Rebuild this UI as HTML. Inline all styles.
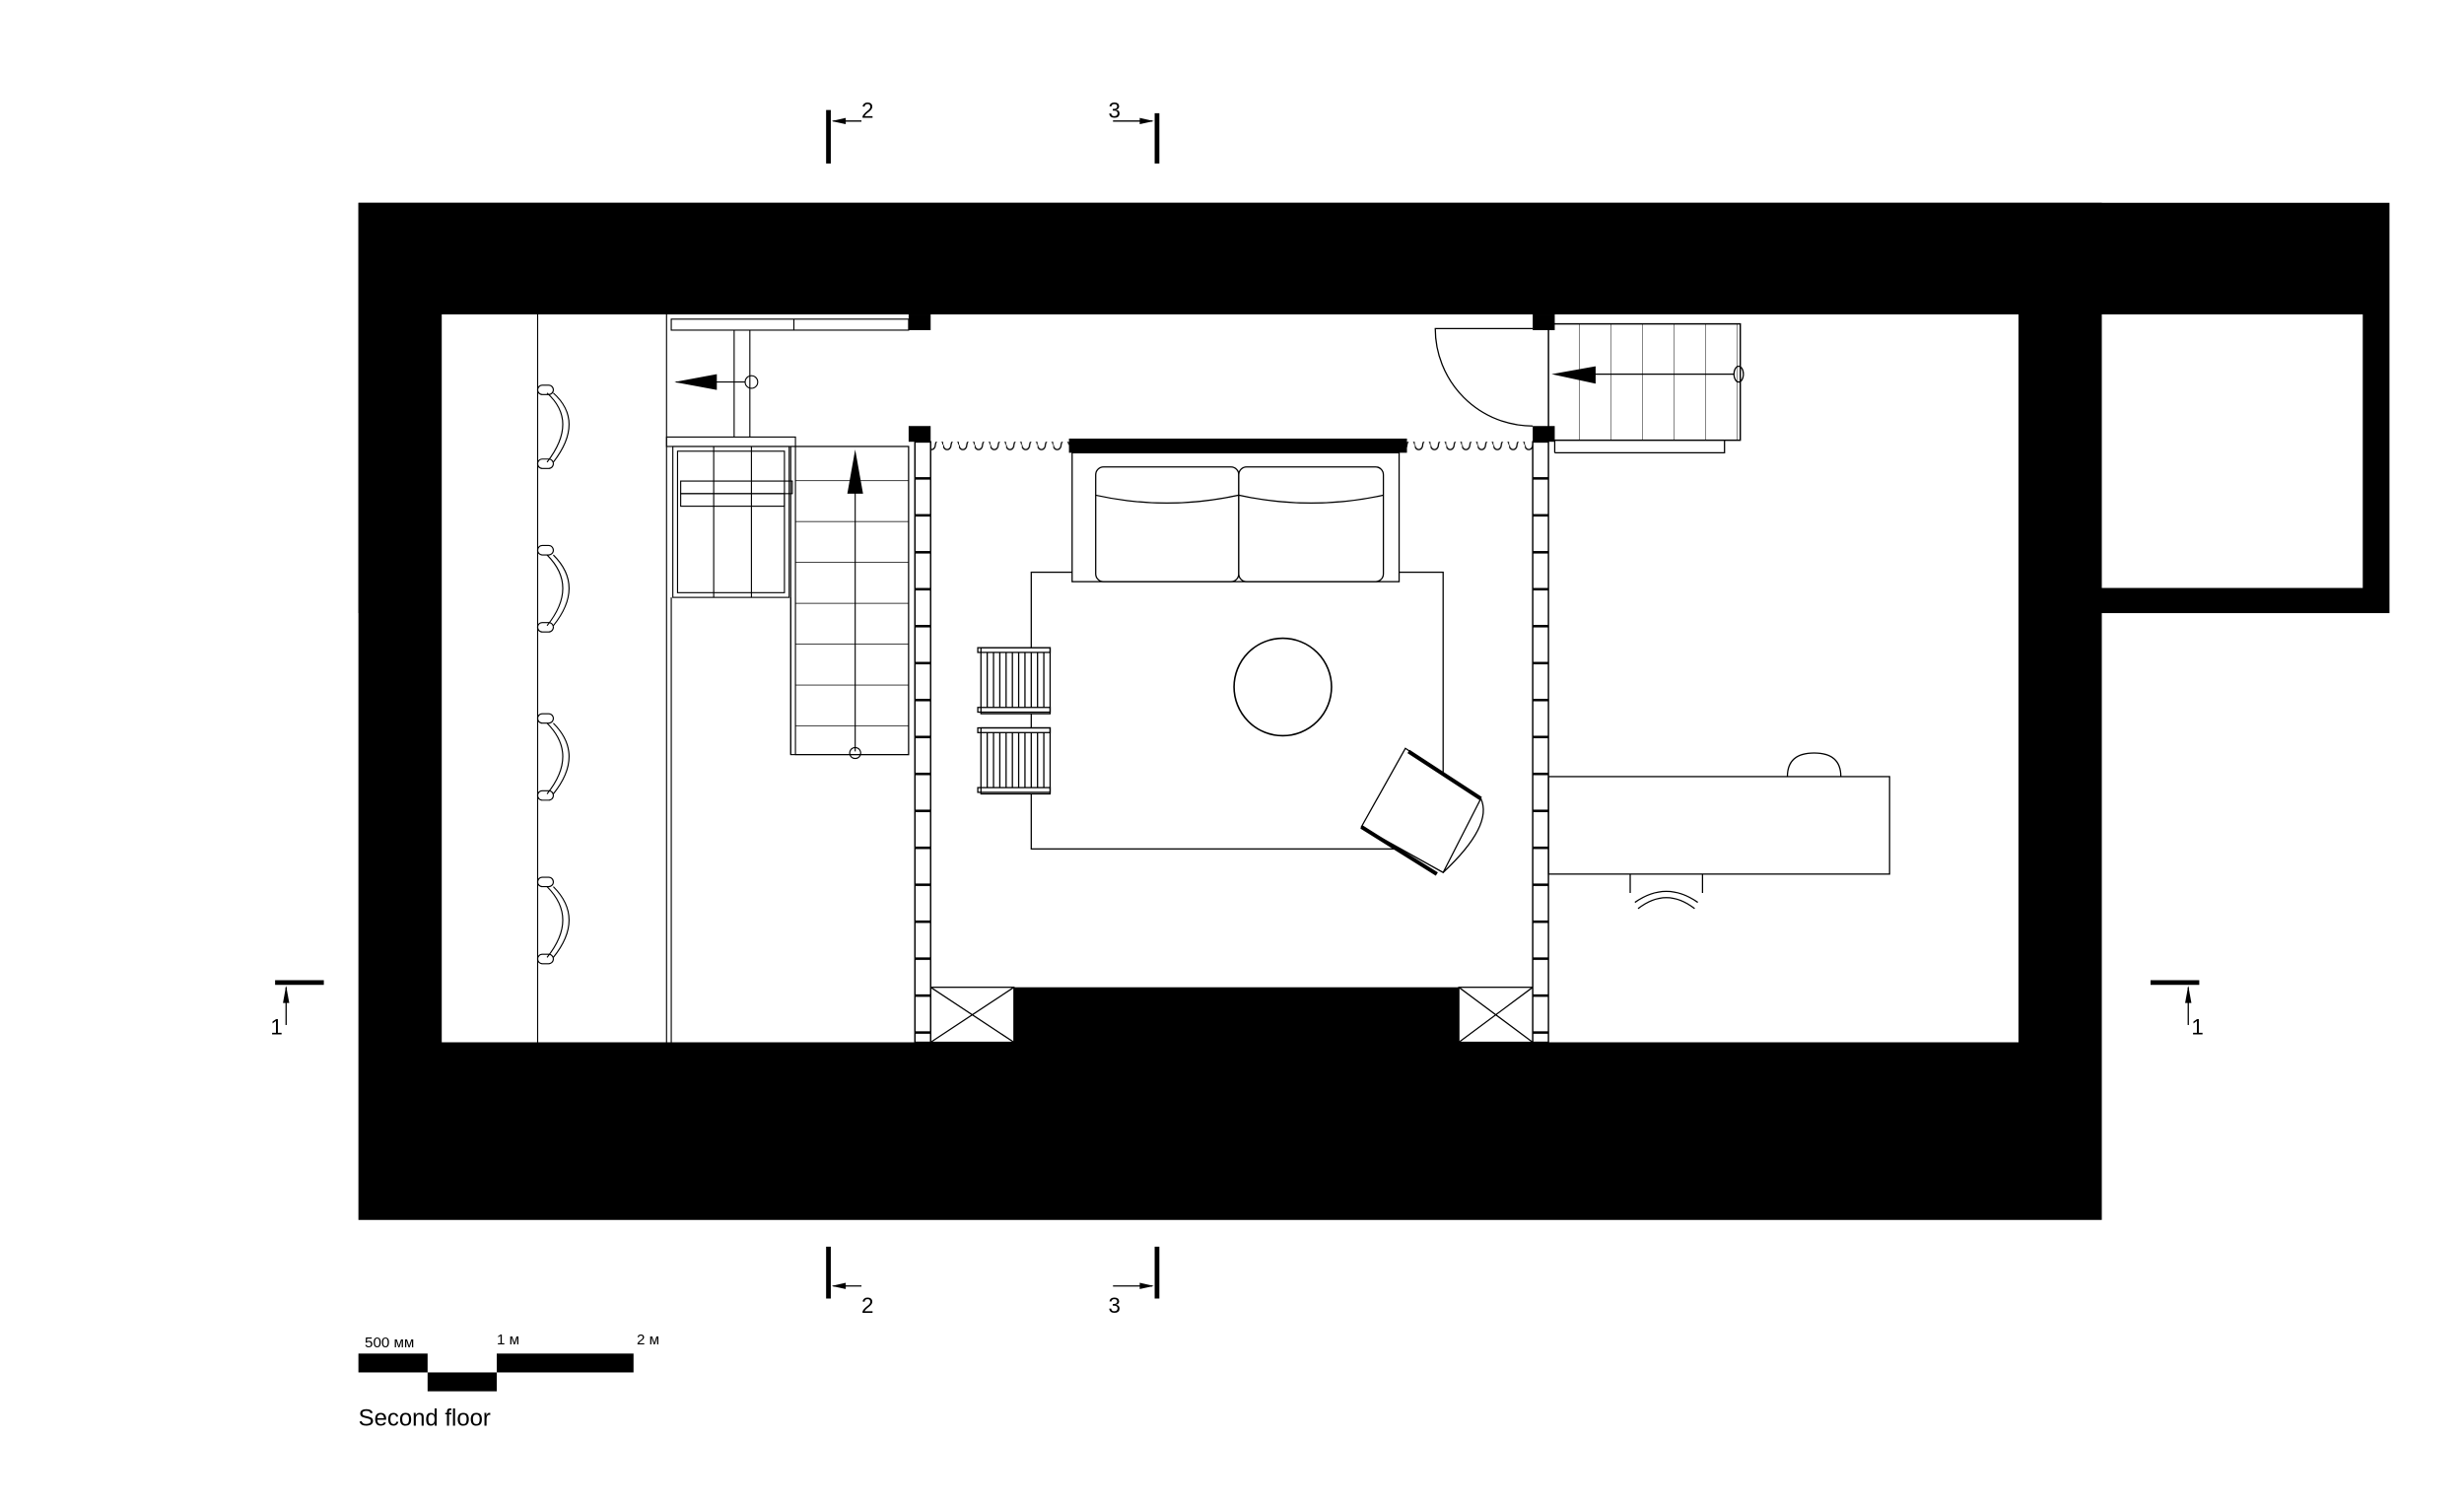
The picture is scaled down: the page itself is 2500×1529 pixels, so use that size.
<!DOCTYPE html>
<html><head><meta charset="utf-8"><style>html,body{margin:0;padding:0;background:#fff}svg{display:block}</style></head>
<body>
<svg width="2500" height="1529" viewBox="0 0 1567.4 958.6" preserveAspectRatio="none" xmlns="http://www.w3.org/2000/svg" font-family="Liberation Sans, sans-serif">
<defs>
<pattern id="lad" x="0" y="280" width="10" height="23.5" patternUnits="userSpaceOnUse">
<rect x="0" y="0" width="10" height="23.5" fill="#fff"/>
<line x1="0" y1="0.8" x2="10" y2="0.8" stroke="#000" stroke-width="1.6"/>
</pattern>
<pattern id="wav" x="0" y="0" width="10" height="10" patternUnits="userSpaceOnUse">
<path d="M0,3 A2.5,3 0 0 0 5,3 A2.5,3 0 0 1 10,3" fill="none" stroke="#000" stroke-width="0.8"/>
</pattern>
<pattern id="stair" x="503" y="280" width="80" height="26" patternUnits="userSpaceOnUse">
<line x1="0" y1="26" x2="80" y2="26" stroke="#000" stroke-width="0.9"/>
</pattern>
<pattern id="rstair" x="985" y="0" width="20" height="10" patternUnits="userSpaceOnUse">
<line x1="20" y1="0" x2="20" y2="10" stroke="#000" stroke-width="0.6"/>
</pattern>
</defs>
<!-- walls -->
<rect x="228" y="129" width="1292" height="261" fill="#000"/>
<rect x="228" y="129" width="1109" height="647" fill="#000"/>
<rect x="281" y="200" width="1003" height="463" fill="#fff"/>
<rect x="1337" y="200" width="166" height="174" fill="#fff"/>
<rect x="645" y="628" width="283" height="36" fill="#000"/>
<!-- X boxes -->
<g fill="none" stroke="#000" stroke-width="0.8">
<rect x="592" y="628" width="53" height="35"/><path d="M592,628 L645,663 M645,628 L592,663"/>
<rect x="928" y="628" width="47" height="35"/><path d="M928,628 L975,663 M975,628 L928,663"/>
</g>
<!-- posts -->
<rect x="578" y="200" width="14" height="10" fill="#000"/>
<rect x="578" y="271" width="14" height="10" fill="#000"/>
<rect x="975" y="200" width="14" height="10" fill="#000"/>
<rect x="975" y="271" width="14" height="10" fill="#000"/>
<!-- ladders (partitions) -->
<rect x="582" y="281" width="10" height="382" fill="url(#lad)" stroke="#000" stroke-width="0.9"/>
<rect x="975" y="281" width="10" height="382" fill="url(#lad)" stroke="#000" stroke-width="0.9"/>
<!-- curtains -->
<rect x="592" y="281" width="88" height="8" fill="url(#wav)"/>
<rect x="895" y="281" width="80" height="8" fill="url(#wav)"/>
<rect x="680" y="279" width="215" height="9" fill="#000"/>
<!-- left zone -->
<g fill="none" stroke="#000" stroke-width="0.7">
<line x1="342" y1="200" x2="342" y2="663"/>
<line x1="424" y1="200" x2="424" y2="663"/><line x1="427" y1="380" x2="427" y2="663"/>
<rect x="427" y="203" width="151" height="7"/>
<line x1="505" y1="203" x2="505" y2="210"/>
<line x1="467" y1="210" x2="467" y2="278"/><line x1="477" y1="210" x2="477" y2="278"/>
<line x1="430" y1="243" x2="474" y2="243"/>
<circle cx="478" cy="243" r="4"/>
<rect x="424" y="278" width="82" height="6"/>
<rect x="428" y="284" width="74" height="96"/>
<rect x="431" y="287" width="68" height="90"/>
<line x1="454" y1="284" x2="454" y2="380"/><line x1="478" y1="284" x2="478" y2="380"/>
<rect x="433" y="306" width="71" height="8"/><rect x="433" y="314" width="66" height="8"/>
<rect x="503" y="284" width="75" height="196"/>
<rect x="506" y="284" width="72" height="196" fill="url(#stair)"/>
<line x1="544" y1="290" x2="544" y2="478"/>
<circle cx="544" cy="479" r="3.5"/>
<line x1="503" y1="380" x2="503" y2="480"/>
<g>
<path d="M348,250 Q368,268 348,294 M352,250 Q372,268 352,294"/><rect x="342" y="245" width="10" height="6" rx="3"/><rect x="342" y="292" width="10" height="6" rx="3"/>
<path d="M348,353 Q368,373 348,398 M352,353 Q372,373 352,398"/><rect x="342" y="347" width="10" height="6" rx="3"/><rect x="342" y="396" width="10" height="6" rx="3"/>
<path d="M348,460 Q368,480 348,505 M352,460 Q372,480 352,505"/><rect x="342" y="454" width="10" height="6" rx="3"/><rect x="342" y="503" width="10" height="6" rx="3"/>
<path d="M348,564 Q368,584 348,609 M352,564 Q372,584 352,609"/><rect x="342" y="558" width="10" height="6" rx="3"/><rect x="342" y="607" width="10" height="6" rx="3"/>
</g>
</g>
<polygon points="429,243 456,238 456,248" fill="#000"/>
<polygon points="544,286 539,314 549,314" fill="#000"/>
<!-- living -->
<g fill="none" stroke="#000" stroke-width="0.8">
<rect x="656" y="364" width="262" height="176"/>
<rect x="682" y="288" width="208" height="82" fill="#fff"/>
<rect x="697" y="297" width="91" height="73" rx="5"/>
<rect x="788" y="297" width="92" height="73" rx="5"/>
<path d="M697,315 Q742,325 788,315 Q834,325 880,315"/>
<circle cx="816" cy="437" r="31" stroke-width="1"/>
<g>
<rect x="624" y="412" width="44" height="42" fill="#fff"/>
<rect x="622" y="412" width="46" height="3"/><rect x="622" y="450" width="46" height="3"/>
<path d="M628,415 V450 M632,415 V450 M636,415 V450 M640,415 V450 M644,415 V450 M648,415 V450 M652,415 V450 M656,415 V450 M660,415 V450 M664,415 V450"/>
<rect x="624" y="463" width="44" height="42" fill="#fff"/>
<rect x="622" y="463" width="46" height="3"/><rect x="622" y="501" width="46" height="3"/>
<path d="M628,466 V501 M632,466 V501 M636,466 V501 M640,466 V501 M644,466 V501 M648,466 V501 M652,466 V501 M656,466 V501 M660,466 V501 M664,466 V501"/>
</g>
<polygon points="894,476 942,508 918,555 866,526" fill="#fff"/>
<path d="M942,508 Q950,525 918,555"/>
</g>
<path d="M896,478 L942,508 M866,526 L914,556" stroke="#000" stroke-width="2.5"/>
<!-- door + right stair -->
<g fill="none" stroke="#000" stroke-width="0.8">
<path d="M975,209 H913 A62,62 0 0 0 975,271"/>
<rect x="985" y="206" width="122" height="74" fill="url(#rstair)"/>
<rect x="985" y="206" width="122" height="74"/>
<line x1="989" y1="280" x2="989" y2="288"/><path d="M989,288 H1097 V280"/>
<line x1="1000" y1="238" x2="1103" y2="238"/>
<ellipse cx="1106" cy="238" rx="3" ry="5"/>
<rect x="985" y="494" width="217" height="62"/>
<path d="M1137,494 Q1137,479 1154,479 Q1171,479 1171,494"/>
<path d="M1037,556 V568 M1083,556 V568 M1040,574 Q1060,560 1080,574"/>
<path d="M1042,578 Q1060,564 1078,578"/>
</g>
<polygon points="987,238 1015,233 1015,244" fill="#000"/>
<!-- section marks -->
<g stroke="#000" fill="none">
<line x1="527" y1="70" x2="527" y2="104" stroke-width="3"/><line x1="530" y1="77" x2="548" y2="77" stroke-width="0.8"/>
<line x1="736" y1="72" x2="736" y2="104" stroke-width="3"/><line x1="708" y1="77" x2="733" y2="77" stroke-width="0.8"/>
<line x1="527" y1="793" x2="527" y2="826" stroke-width="3"/><line x1="530" y1="818" x2="548" y2="818" stroke-width="0.8"/>
<line x1="736" y1="793" x2="736" y2="826" stroke-width="3"/><line x1="708" y1="818" x2="733" y2="818" stroke-width="0.8"/>
<line x1="175" y1="625" x2="206" y2="625" stroke-width="3"/><line x1="182" y1="628" x2="182" y2="652" stroke-width="0.8"/>
<line x1="1368" y1="625" x2="1399" y2="625" stroke-width="3"/><line x1="1392" y1="628" x2="1392" y2="652" stroke-width="0.8"/>
</g>
<g fill="#000">
<polygon points="529,77 538,75 538,79"/><polygon points="734,77 725,75 725,79"/>
<polygon points="529,818 538,816 538,820"/><polygon points="734,818 725,816 725,820"/>
<polygon points="182,627 180,638 184,638"/><polygon points="1392,627 1390,638 1394,638"/>
</g>
<g font-size="14" fill="#000">
<text x="548" y="75">2</text><text x="705" y="75">3</text>
<text x="548" y="835">2</text><text x="705" y="835">3</text>
<text x="172" y="658">1</text><text x="1394" y="658">1</text>
</g>
<g fill="#000">
<rect x="228" y="861" width="44" height="12"/>
<rect x="272" y="873" width="44" height="12"/>
<rect x="316" y="861" width="87" height="12"/>
</g>
<g font-size="9.5" fill="#000">
<text x="232" y="857">500 мм</text><text x="316" y="855">1 м</text><text x="405" y="855">2 м</text>
</g>
<text x="228" y="907" font-size="15" fill="#000">Second floor</text>
</svg>
</body></html>
